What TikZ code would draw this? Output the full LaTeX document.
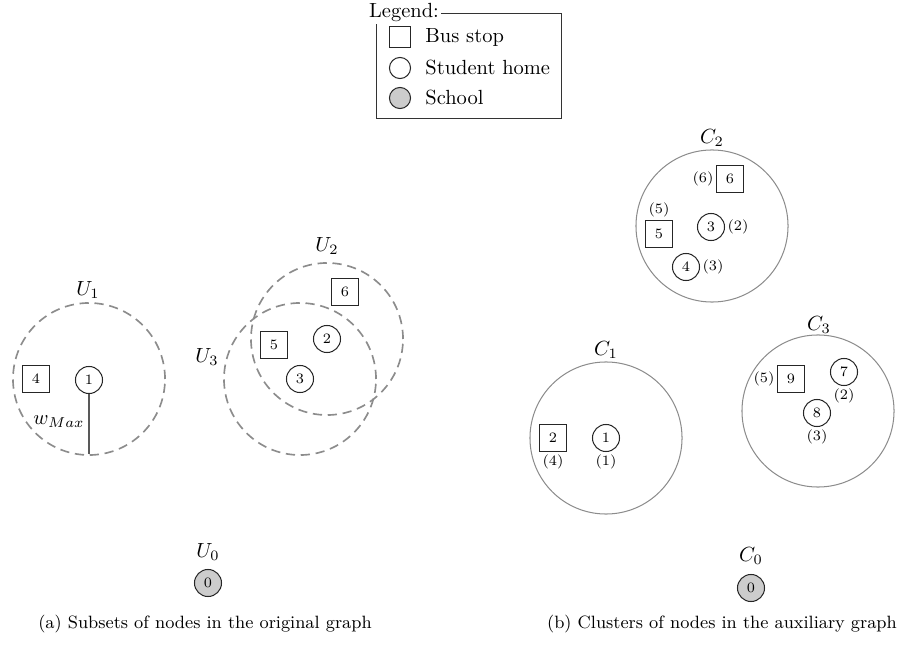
\documentclass[tikz,border=0pt]{standalone}
\usetikzlibrary{positioning}
\begin{document}
\begin{tikzpicture}[x=0.488pt,y=-0.488pt,
  stopbox/.style={draw=black!85,line width=0.5pt,minimum size=13.2pt,inner sep=0pt,font=\scriptsize},
  homebox/.style={circle,draw=black!85,line width=0.5pt,minimum size=13.2pt,inner sep=0pt,font=\scriptsize},
  schoolbox/.style={homebox,fill=black!20},
  subset/.style={draw=black!45,line width=0.8pt,dash pattern=on 4.5pt off 2.8pt},
  cluster/.style={draw=black!45,line width=0.5pt},
  lab/.style={font=\scriptsize,inner sep=1pt},
  setlab/.style={inner sep=0pt},
  captext/.style={font=\fontsize{8.7}{10}\selectfont,inner sep=0pt}]
\useasboundingbox (0,0) rectangle (917,649);

% Legend
\draw[line width=0.45pt,draw=black!80] (376,13) rectangle (561,118);
\node[fill=white,inner sep=1pt] (legtitle) at (404,13) {Legend:};
\node[draw=black!85,line width=0.5pt,minimum size=10pt,inner sep=0pt] (lstop) at (400,37) {};
\node[circle,draw=black!85,line width=0.5pt,minimum size=10.3pt,inner sep=0pt] (lhome) at (400,68) {};
\node[circle,draw=black!85,fill=black!20,line width=0.5pt,minimum size=10.3pt,inner sep=0pt] (lschool) at (400,98) {};
\node[anchor=west,inner sep=0pt] (tstop) at (425,37) {Bus stop};
\node[anchor=west,inner sep=0pt] (thome) at (425,68) {Student home};
\node[anchor=west,inner sep=0pt] (tschool) at (425,98) {School};

% (a) subsets
\node[stopbox] (a4) at (36,379) {4};
\node[homebox] (a1) at (89,380) {1};
\coordinate (u1c) at (89,379);
\draw[subset] (u1c) circle[radius=37.1pt];
\node[setlab] (u1) at (88,290) {$U_1$};
\coordinate (wend) at (89,454);
\draw[black!65,line width=0.6pt] (a1.south) -- (wend);
\node[setlab] (wlab) at (59,422) {$w_{Max}$};

\node[stopbox] (a6) at (345,292) {6};
\node[stopbox] (a5) at (274,345) {5};
\node[homebox] (a2) at (327,339) {2};
\node[homebox] (a3) at (300,379) {3};
\draw[subset] (a2) circle[radius=37.1pt];
\draw[subset] (a3) circle[radius=37.1pt];
\node[setlab] (u2) at (327,246) {$U_2$};
\node[setlab] (u3) at (207,357) {$U_3$};

\node[setlab] (u0) at (208,552) {$U_0$};
\node[schoolbox] (a0) at (208,583) {0};

\node[captext] (capa) at (205,624) {(a) Subsets of nodes in the original graph};

% (b) clusters
\coordinate (c2c) at (712,226);
\draw[cluster] (c2c) circle[radius=37.1pt];
\node[setlab] (c2) at (712,138) {$C_2$};
\node[stopbox] (b6) at (730,179) {6};
\node[lab,left=0pt of b6] (l6) {(6)};
\node[stopbox] (b5) at (659,234) {5};
\node[lab,above=0pt of b5] (l5) {(5)};
\node[homebox] (b3) at (711,227) {3};
\node[lab,right=0pt of b3] (l3) {(2)};
\node[homebox] (b4) at (686,267) {4};
\node[lab,right=0pt of b4] (l4) {(3)};

\coordinate (c1c) at (606,438);
\draw[cluster] (c1c) circle[radius=37.1pt];
\node[setlab] (c1) at (606,350) {$C_1$};
\node[stopbox] (b2) at (553,438) {2};
\node[lab,below=0pt of b2] (l2) {(4)};
\node[homebox] (b1) at (606,438) {1};
\node[lab,below=0pt of b1] (l1) {(1)};

\coordinate (c3c) at (818,411);
\draw[cluster] (c3c) circle[radius=37.1pt];
\node[setlab] (c3) at (819,325) {$C_3$};
\node[stopbox] (b9) at (791,379) {9};
\node[lab,left=0pt of b9] (l9) {(5)};
\node[homebox] (b7) at (844,372) {7};
\node[lab,below=0pt of b7] (l7) {(2)};
\node[homebox] (b8) at (817,413) {8};
\node[lab,below=0pt of b8] (l8) {(3)};

\node[setlab] (c0) at (751,556) {$C_0$};
\node[schoolbox] (b0) at (751,588) {0};

\node[captext] (capb) at (722,624) {(b) Clusters of nodes in the auxiliary graph};
\end{tikzpicture}
\end{document}
